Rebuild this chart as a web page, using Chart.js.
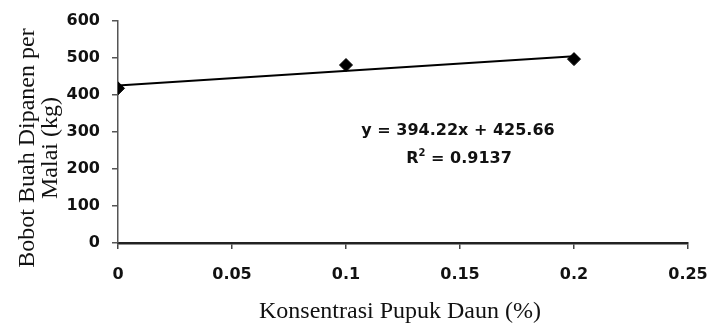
<!DOCTYPE html>
<html lang="id">
<head>
  <meta charset="UTF-8">
  <title>Bobot Buah Dipanen per Malai</title>
  <script src="https://cdn.jsdelivr.net/npm/chart.js"></script>
  <style>
    html, body { margin: 0; padding: 0; background: #fff; }
    canvas { display: block; }
  </style>
</head>
<body>

<canvas id="myChart" width="712" height="324"></canvas>

<script>
  // data
  const konsentrasi = [0, 0.1, 0.2];
  const bobotBuah = [418, 481, 497];

  // linear trendline given in the figure
  const slope = 394.22;
  const intercept = 425.66;
  const trendX = [0, 0.2];

  const xTickValues = [0, 0.05, 0.1, 0.15, 0.2, 0.25];
  const xTickLabels = ['0', '0.05', '0.1', '0.15', '0.2', '0.25'];
  const yTickValues = [0, 100, 200, 300, 400, 500, 600];

  const eqLine = 'y = 394.22x + 425.66';
  const r2Value = '0.9137';
  const xTitle = 'Konsentrasi Pupuk Daun (%)';
  const yTitleLines = ['Bobot Buah Dipanen per', 'Malai (kg)'];

  const tickFont = { family: 'DejaVu Sans', size: 16, weight: 'bold' };

  // axis titles and regression text drawn on the canvas
  const textPlugin = {
    id: 'textPlugin',
    afterDraw(chart) {
      const ctx = chart.ctx;
      ctx.save();
      ctx.fillStyle = '#111';

      // x title
      ctx.font = '24px "Liberation Serif"';
      ctx.textAlign = 'center';
      ctx.textBaseline = 'alphabetic';
      ctx.fillText(xTitle, 400, 318);

      // y title, two lines
      ctx.save();
      ctx.translate(0, 148);
      ctx.rotate(-Math.PI / 2);
      ctx.fillText(yTitleLines[0], 0, 34);
      ctx.fillText(yTitleLines[1], 0, 57);
      ctx.restore();

      // equation
      ctx.font = 'bold 16px "DejaVu Sans"';
      ctx.fillText(eqLine, 458, 135);

      // R^2 line
      const partA = 'R';
      const partB = ' = ' + r2Value;
      const wA = ctx.measureText(partA).width;
      const wB = ctx.measureText(partB).width;
      ctx.font = 'bold 10px "DejaVu Sans"';
      const wS = ctx.measureText('2').width;
      let x = 459 - (wA + wS + wB) / 2;
      ctx.textAlign = 'left';
      ctx.font = 'bold 16px "DejaVu Sans"';
      ctx.fillText(partA, x, 163);
      x += wA;
      ctx.font = 'bold 10px "DejaVu Sans"';
      ctx.fillText('2', x, 156);
      x += wS;
      ctx.font = 'bold 16px "DejaVu Sans"';
      ctx.fillText(partB, x, 163);

      ctx.restore();
    }
  };

  const ctx = document.getElementById('myChart').getContext('2d');

  const myChart = new Chart(ctx, {
    type: 'scatter',
    data: {
      datasets: [{
        label: 'Bobot',
        data: konsentrasi.map((x, i) => ({ x: x, y: bobotBuah[i] })),
        pointStyle: 'rectRot',
        pointRadius: 6.5,
        backgroundColor: '#000',
        borderColor: '#000',
        borderWidth: 1,
        showLine: false,
        order: 1
      }, {
        label: 'Linear',
        data: trendX.map(x => ({ x: x, y: slope * x + intercept })),
        showLine: true,
        pointRadius: 0,
        borderColor: '#000',
        borderWidth: 2,
        order: 2
      }]
    },
    options: {
      responsive: false,
      animation: false,
      layout: { padding: { top: 21, right: 24, left: 0, bottom: 0 } },
      plugins: {
        legend: { display: false },
        tooltip: { enabled: false }
      },
      scales: {
        x: {
          type: 'linear',
          min: 0,
          max: 0.25,
          afterBuildTicks: scale => { scale.ticks = xTickValues.map(v => ({ value: v })); },
          afterFit: scale => {
            scale.height = 81;
            scale.paddingLeft = 0;
            scale.paddingRight = 0;
          },
          border: { display: true, color: '#222', width: 2.5 },
          grid: { drawOnChartArea: false, drawTicks: true, tickLength: 6, color: '#444', lineWidth: 1.5 },
          ticks: {
            font: tickFont,
            color: '#111',
            padding: 16,
            maxRotation: 0,
            callback: (val, i) => xTickLabels[i]
          }
        },
        y: {
          type: 'linear',
          min: 0,
          max: 600,
          afterBuildTicks: scale => { scale.ticks = yTickValues.map(v => ({ value: v })); },
          afterFit: scale => {
            scale.width = 118;
            scale.paddingTop = 0;
            scale.paddingBottom = 0;
          },
          border: { display: true, color: '#555', width: 1.5 },
          grid: { drawOnChartArea: false, drawTicks: true, tickLength: 6, color: '#555', lineWidth: 1.5 },
          ticks: {
            font: tickFont,
            color: '#111',
            padding: 12
          }
        }
      }
    },
    plugins: [textPlugin]
  });
</script>

</body>
</html>
